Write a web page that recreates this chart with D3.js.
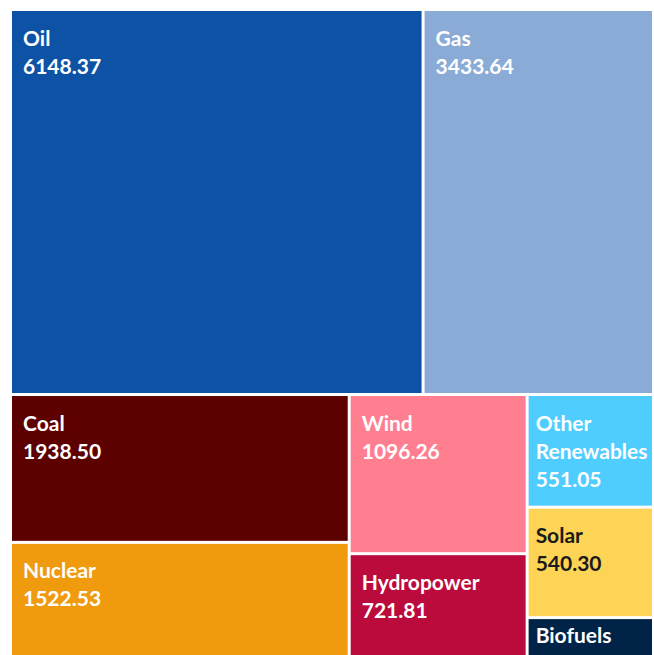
<!DOCTYPE html>
<html>
<head>
<meta charset="utf-8">
<script src="https://cdn.jsdelivr.net/npm/d3@7"></script>
<style>
  body { margin: 0; background: #fff; overflow: hidden; }
  text { font-family: Lato, "Open Sans", sans-serif; font-weight: 700; }
</style>
</head>
<body>
<div id="wrapper"></div>
<script>
const sources = ["Oil", "Gas", "Coal", "Nuclear", "Wind", "Hydropower", "Other Renewables", "Solar", "Biofuels"]
const values = [6148.37, 3433.64, 1938.50, 1522.53, 1096.26, 721.81, 551.05, 540.30, 200]
const showValue = [true, true, true, true, true, true, true, true, false]
const colors = ["#0e52a5", "#8aabd6", "#5c0000", "#f09a0e", "#ff7f91", "#bb0a3c", "#50cdff", "#fdd455", "#002347"]
const textColors = ["#fff", "#fff", "#fff", "#fff", "#fff", "#fff", "#fff", "#1a1a1a", "#fff"]

function drawTreemap() {
  const dimensions = {
    width: 654,
    height: 655,
    margin: { top: 11, right: 2, bottom: -2, left: 12 }
  }
  dimensions.boundedWidth = dimensions.width - dimensions.margin.left - dimensions.margin.right
  dimensions.boundedHeight = dimensions.height - dimensions.margin.top - dimensions.margin.bottom

  const dataset = sources.map((name, i) => ({
    name, value: values[i], color: colors[i], textColor: textColors[i], showValue: showValue[i]
  }))

  const root = d3.hierarchy({ children: dataset })
    .sum(d => d.value || 0)

  d3.treemap()
    .tile(d3.treemapSquarify)
    .size([dimensions.boundedWidth, dimensions.boundedHeight])
    .paddingInner(3)(root)

  const wrapper = d3.select("#wrapper")
    .append("svg")
      .attr("width", dimensions.width)
      .attr("height", dimensions.height)

  const bounds = wrapper.append("g")
    .attr("transform", `translate(${dimensions.margin.left},${dimensions.margin.top})`)

  const cells = bounds.selectAll("g")
    .data(root.leaves())
    .enter().append("g")
      .attr("transform", d => `translate(${d.x0},${d.y0})`)

  cells.append("rect")
    .attr("width", d => d.x1 - d.x0)
    .attr("height", d => d.y1 - d.y0)
    .attr("fill", d => d.data.color)

  const label = cells.append("text")
    .attr("fill", d => d.data.textColor)
    .style("font-size", "21px")

  // name wraps when the tile is narrow, first line moves up in short tiles
  label.each(function(d) {
    const t = d3.select(this)
    const w = d.x1 - d.x0
    const h = d.y1 - d.y0
    const words = d.data.name.split(" ")
    let lines = w < 140 && words.length > 1 ? words : [d.data.name]
    if (d.data.showValue) lines = lines.concat(d3.format(".2f")(d.data.value))
    const left = w < 140 ? 7 : 11
    const top = Math.min(34.5, h - 14)
    lines.forEach((line, i) => {
      t.append("tspan")
        .attr("x", left)
        .attr("y", top + i * 28)
        .text(line)
    })
  })
}

drawTreemap()
</script>
</body>
</html>
